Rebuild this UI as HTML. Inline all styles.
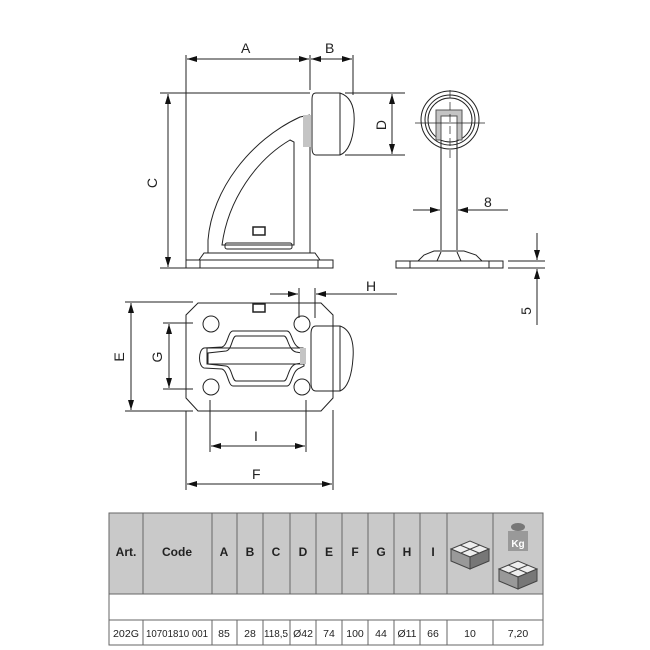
<!DOCTYPE html>
<html><head><meta charset="utf-8"><style>
body{margin:0;background:#fff;width:650px;height:650px;overflow:hidden}
svg{position:absolute;left:0;top:0}
text{font-family:"Liberation Sans",sans-serif;fill:#222}
</style></head><body>
<svg width="650" height="650" viewBox="0 0 650 650">
<defs>
<marker id="a" viewBox="0 0 10 6" refX="10" refY="3" markerWidth="10" markerHeight="6" orient="auto-start-reverse" markerUnits="userSpaceOnUse"><path d="M0,0L10,3L0,6z" fill="#111"/></marker>
</defs>
<g fill="none" stroke="#222" stroke-width="1">
<!-- side view -->
<line x1="186" y1="55" x2="186" y2="268"/><line x1="310" y1="55" x2="310" y2="90"/><line x1="353" y1="55" x2="353" y2="95"/>
<line x1="187" y1="59" x2="309" y2="59" marker-start="url(#a)" marker-end="url(#a)"/>
<line x1="311" y1="59" x2="352" y2="59" marker-start="url(#a)" marker-end="url(#a)"/>
<line x1="160" y1="93" x2="310" y2="93"/><line x1="160" y1="268" x2="186" y2="268"/>
<line x1="168" y1="94" x2="168" y2="267" marker-start="url(#a)" marker-end="url(#a)"/>
<line x1="345" y1="93" x2="405" y2="93"/><line x1="345" y1="155" x2="405" y2="155"/>
<line x1="392" y1="94" x2="392" y2="154" marker-start="url(#a)" marker-end="url(#a)"/>
<rect x="186" y="260" width="147" height="8"/><line x1="200" y1="260" x2="200" y2="268"/><line x1="318" y1="260" x2="318" y2="268"/>
<path d="M199,260 L204,253 L315,253 L320,260"/>
<line x1="310" y1="116" x2="310" y2="253"/>
<path d="M208,253 L208,240 C212,190 250,140 300,117 L310,115"/>
<path d="M222,245 C228,200 256,160 290,140 L294,142 L294,245 Z"/>
<rect x="225" y="243" width="67" height="6" rx="2"/>
<rect x="253" y="227" width="12" height="8" stroke-width="1.5"/>
<rect x="303" y="115" width="8" height="32" fill="#c4c4c4" stroke="none"/>
<path d="M316,93 L340,93 C352,97 355,110 354,124 C353,140 348,152 340,155 L316,155 C312,155 312,150 312,146 L312,100 C312,95 313,93 316,93 Z"/>
<line x1="340" y1="93" x2="340" y2="155"/>
<!-- front view -->
<circle cx="450" cy="120" r="29"/><circle cx="450" cy="120" r="25"/><circle cx="450" cy="120" r="22"/>
<path d="M436,140 L436,110 L462,110 L462,140 L457,140 L457,116 L441,116 L441,140 Z" fill="#c4c4c4" stroke="#555"/>
<line x1="415" y1="123" x2="485" y2="123" stroke-width="0.7"/><line x1="450" y1="90" x2="450" y2="160" stroke-width="0.7" stroke-dasharray="8,4"/>
<line x1="441" y1="140" x2="441" y2="250"/><line x1="457" y1="140" x2="457" y2="250"/>
<path d="M418,261 L424,255 L434,251 L464,251 L476,255 L482,261"/><path d="M437,261 L441,252 M461,261 L457,252"/>
<rect x="396" y="261" width="107" height="7"/><line x1="410" y1="261" x2="410" y2="268"/><line x1="489" y1="261" x2="489" y2="268"/>
<line x1="413" y1="210" x2="440" y2="210" marker-end="url(#a)"/><line x1="508" y1="210" x2="458" y2="210" marker-end="url(#a)"/>
<line x1="508" y1="261" x2="545" y2="261"/><line x1="508" y1="268" x2="545" y2="268"/>
<line x1="537" y1="233" x2="537" y2="260" marker-end="url(#a)"/><line x1="537" y1="325" x2="537" y2="269" marker-end="url(#a)"/>
<!-- top view -->
<path d="M198,303 L321,303 L333,315 L333,398 L321,411 L198,411 L186,398 L186,315 Z"/>
<circle cx="211" cy="324" r="8"/><circle cx="211" cy="387" r="8"/><circle cx="302" cy="324" r="8"/><circle cx="302" cy="387" r="8"/>
<path d="M233,331 L287,331 C292,331 292,346 300,348 L304,350 L304,366 L300,368 C292,370 292,386 287,386 L233,386 C228,386 228,371 222,369 L204,368 C198,366 198,350 204,348 L222,347 C228,345 228,331 233,331 Z"/>
<path d="M236,336 L284,336 C288,336 288,350 296,352 L302,353 L302,363 L296,364 C288,366 288,381 284,381 L236,381 C232,381 232,367 226,366 L208,364 L208,353 L226,351 C232,350 232,336 236,336 Z"/>
<rect x="207" y="348" width="96" height="16"/>
<rect x="300" y="348" width="6" height="16" fill="#c4c4c4" stroke="none"/>
<rect x="253" y="304" width="12" height="8" stroke-width="1.5"/>
<path d="M316,326 L340,326 C352,330 354,345 353,358 C352,374 348,388 340,391 L316,391 C312,391 311,387 311,383 L311,334 C311,328 313,326 316,326 Z"/>
<line x1="340" y1="326" x2="340" y2="391"/>
<line x1="125" y1="302" x2="193" y2="302"/><line x1="125" y1="411" x2="193" y2="411"/>
<line x1="131" y1="303" x2="131" y2="410" marker-start="url(#a)" marker-end="url(#a)"/>
<line x1="163" y1="323" x2="193" y2="323"/><line x1="163" y1="389" x2="193" y2="389"/>
<line x1="169" y1="324" x2="169" y2="388" marker-start="url(#a)" marker-end="url(#a)"/>
<line x1="186" y1="411" x2="186" y2="490"/><line x1="333" y1="410" x2="333" y2="490"/>
<line x1="210" y1="400" x2="210" y2="452"/><line x1="306" y1="400" x2="306" y2="452"/>
<line x1="211" y1="446" x2="305" y2="446" marker-start="url(#a)" marker-end="url(#a)"/>
<line x1="187" y1="484" x2="332" y2="484" marker-start="url(#a)" marker-end="url(#a)"/>
<line x1="299" y1="288" x2="299" y2="318"/><line x1="315" y1="288" x2="315" y2="318"/>
<line x1="270" y1="294" x2="298" y2="294" marker-end="url(#a)"/><line x1="397" y1="294" x2="316" y2="294" marker-end="url(#a)"/>
</g>
<g font-size="14">
<text x="241" y="53">A</text><text x="325" y="53">B</text><text x="366" y="291">H</text><text x="484" y="207">8</text>
<text x="254" y="441">I</text><text x="252" y="479">F</text>
<text transform="translate(157,183) rotate(-90)" text-anchor="middle">C</text>
<text transform="translate(386,125) rotate(-90)" text-anchor="middle">D</text>
<text transform="translate(124,357) rotate(-90)" text-anchor="middle">E</text>
<text transform="translate(162,357) rotate(-90)" text-anchor="middle">G</text>
<text transform="translate(531,311) rotate(-90)" text-anchor="middle">5</text>
</g>
<!-- table -->
<rect x="109" y="513" width="434" height="81" fill="#c9c9c9"/>
<g stroke="#666" stroke-width="1" fill="none">
<rect x="109" y="513" width="434" height="132"/>
<line x1="109" y1="594" x2="543" y2="594"/><line x1="109" y1="620" x2="543" y2="620"/>
<path d="M143,513V594M212,513V594M237,513V594M263,513V594M290,513V594M316,513V594M342,513V594M368,513V594M394,513V594M420,513V594M447,513V594M493,513V594"/>
<path d="M143,620V645M212,620V645M237,620V645M263,620V645M290,620V645M316,620V645M342,620V645M368,620V645M394,620V645M420,620V645M447,620V645M493,620V645"/>
</g>
<g font-size="12" font-weight="bold" text-anchor="middle">
<text x="126" y="556">Art.</text><text x="177" y="556">Code</text><text x="224" y="556">A</text><text x="250" y="556">B</text><text x="276" y="556">C</text><text x="303" y="556">D</text><text x="329" y="556">E</text><text x="355" y="556">F</text><text x="381" y="556">G</text><text x="407" y="556">H</text><text x="433" y="556">I</text>
</g>
<g font-size="10.5" text-anchor="middle">
<text x="126" y="637" textLength="26" lengthAdjust="spacingAndGlyphs">202G</text><text x="177" y="637" textLength="62" lengthAdjust="spacingAndGlyphs">10701810 001</text><text x="224" y="637">85</text><text x="250" y="637">28</text><text x="276" y="637" textLength="24" lengthAdjust="spacingAndGlyphs">118,5</text><text x="303" y="637">Ø42</text><text x="329" y="637">74</text><text x="355" y="637">100</text><text x="381" y="637">44</text><text x="407" y="637">Ø11</text><text x="433" y="637">66</text><text x="470" y="637">10</text><text x="518" y="637">7,20</text>
</g>
<!-- box icons -->
<g stroke="#444" stroke-width="1">
<path d="M451,549 L470,541 L489,549 L470,557 Z" fill="#eee"/><path d="M451,549 L451,561 L470,569 L470,557 Z" fill="#999"/><path d="M470,557 L470,569 L489,561 L489,549 Z" fill="#777"/>
<path d="M460,545 L479,553 M480,545 L461,553" fill="none"/>
<path d="M499,569 L518,561 L537,569 L518,577 Z" fill="#eee"/><path d="M499,569 L499,581 L518,589 L518,577 Z" fill="#999"/><path d="M518,577 L518,589 L537,581 L537,569 Z" fill="#777"/>
<path d="M508,565 L527,573 M528,565 L509,573" fill="none"/>
<rect x="508" y="531" width="20" height="20" fill="#999" stroke="none"/>
<ellipse cx="518" cy="527" rx="7" ry="4" fill="#777" stroke="none"/>
</g>
<text x="518" y="547" font-size="10" font-weight="bold" text-anchor="middle" style="fill:#fff">Kg</text>
</svg>
</body></html>
